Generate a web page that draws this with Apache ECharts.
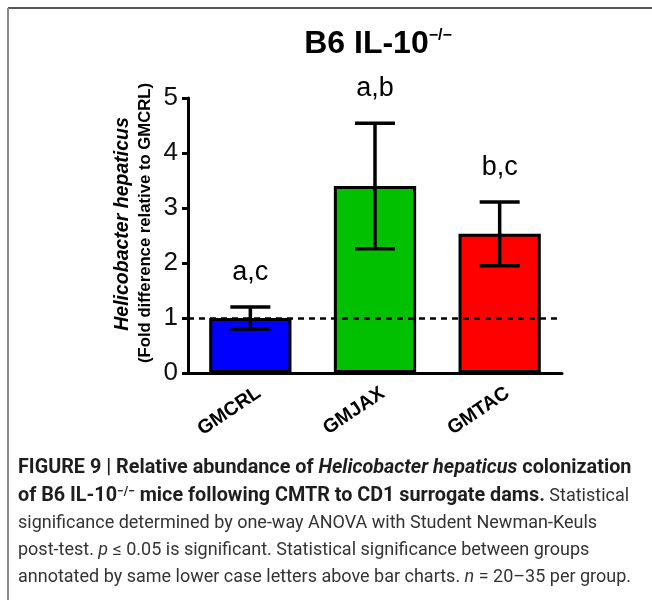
<!DOCTYPE html>
<html>
<head>
<meta charset="utf-8">
<script src="https://cdn.jsdelivr.net/npm/echarts@6/dist/echarts.min.js"></script>
<style>
  html, body { margin: 0; padding: 0; background: #fff; }
  #chart { width: 652px; height: 600px; }
</style>
</head>
<body>
<div id="chart"></div>
<script>
// Groups, fold-difference means and error half-widths
const categories = ['GMCRL', 'GMJAX', 'GMTAC'];
const foldMeans = [1.0, 3.40, 2.53];
const foldErrors = [0.20, 1.14, 0.58];
const groupLetters = ['a,c', 'a,b', 'b,c'];
const referenceLevel = 1;
const yTickValues = [0, 1, 2, 3, 4, 5];

const barColors = ['#0000ff', '#00c000', '#ff0000'];
const SANS = '"Liberation Sans", Arial, sans-serif';
const CAP = 'Roboto, "Liberation Sans", sans-serif';

const chart = echarts.init(document.getElementById('chart'), null, { renderer: 'canvas' });

const errorData = categories.map((c, i) => [i, foldMeans[i] - foldErrors[i], foldMeans[i] + foldErrors[i]]);

// Error bar with caps, significance letters above it and the slanted group name below the axis
function renderErrorBar(params, api) {
  const i = api.value(0);
  const lo = api.coord([i, api.value(1)]);
  const hi = api.coord([i, api.value(2)]);
  const base = api.coord([i, 0]);
  const half = 20;
  const st = { stroke: '#000', lineWidth: 3.5 };
  return {
    type: 'group',
    children: [
      { type: 'line', shape: { x1: hi[0], y1: hi[1], x2: lo[0], y2: lo[1] }, style: st },
      { type: 'line', shape: { x1: hi[0] - half, y1: hi[1], x2: hi[0] + half, y2: hi[1] }, style: st },
      { type: 'line', shape: { x1: lo[0] - half, y1: lo[1], x2: lo[0] + half, y2: lo[1] }, style: st },
      {
        type: 'text',
        style: {
          text: groupLetters[params.dataIndex],
          x: hi[0], y: hi[1] - 21,
          align: 'center', verticalAlign: 'bottom',
          fontSize: 27, fontFamily: SANS, fill: '#000'
        }
      },
      {
        type: 'text',
        x: base[0] - 21, y: base[1] + 38,
        rotation: 34 * Math.PI / 180,
        style: {
          text: categories[params.dataIndex],
          align: 'center', verticalAlign: 'middle',
          fontSize: 19.5, fontWeight: 'bold', fontFamily: SANS, fill: '#000'
        }
      }
    ]
  };
}

// Caption lines (rich text segments)
const captionRich = {
  b: { fontFamily: CAP, fontSize: 19.8, fontWeight: 'bold', fill: '#1e1e1e' },
  bi: { fontFamily: CAP, fontSize: 19.8, fontWeight: 'bold', fontStyle: 'italic', fill: '#1e1e1e' },
  bs: { fontFamily: CAP, fontSize: 12, fontWeight: 'bold', fill: '#1e1e1e', verticalAlign: 'top', lineHeight: 12 },
  r: { fontFamily: CAP, fontSize: 18, fill: '#333' },
  ri: { fontFamily: CAP, fontSize: 18, fontStyle: 'italic', fill: '#333' }
};
const captionLines = [
  '{b|FIGURE 9 | Relative abundance of }{bi|Helicobacter hepaticus}{b| colonization}',
  '{b|of B6 IL-10}{bs|−/−}{b| mice following CMTR to CD1 surrogate dams.}{r| Statistical}',
  '{r|significance determined by one-way ANOVA with Student Newman-Keuls}',
  '{r|post-test. }{ri|p}{r| ≤ 0.05 is significant. Statistical significance between groups}',
  '{r|annotated by same lower case letters above bar charts. }{ri|n}{r| = 20–35 per group.}'
];
const captionY = [468, 496, 523, 550, 577];

const graphics = [
  // frame
  { type: 'line', shape: { x1: 8, y1: 8, x2: 652, y2: 8 }, style: { stroke: '#555', lineWidth: 2 } },
  { type: 'line', shape: { x1: 8, y1: 8, x2: 8, y2: 600 }, style: { stroke: '#888', lineWidth: 2 } },
  // title
  {
    type: 'text', x: 378, y: 44,
    style: {
      text: '{m|B6 IL-10}{s|−/−}',
      align: 'center', verticalAlign: 'middle',
      rich: {
        m: { fontFamily: SANS, fontSize: 32, fontWeight: 'bold', fill: '#000' },
        s: { fontFamily: SANS, fontSize: 16, fontWeight: 'bold', fill: '#000', verticalAlign: 'top', lineHeight: 16 }
      }
    }
  },
  // y axis title, two lines
  {
    type: 'text', x: 123, y: 224, rotation: Math.PI / 2,
    style: {
      text: 'Helicobacter hepaticus', align: 'center', verticalAlign: 'middle',
      fontFamily: SANS, fontSize: 19.5, fontWeight: 'bold', fontStyle: 'italic', fill: '#000'
    }
  },
  {
    type: 'text', x: 145, y: 223, rotation: Math.PI / 2,
    style: {
      text: '(Fold difference relative to GMCRL)', align: 'center', verticalAlign: 'middle',
      fontFamily: SANS, fontSize: 16.7, fontWeight: 'bold', fill: '#000'
    }
  }
].concat(captionLines.map((t, k) => ({
  type: 'text', x: 18, y: captionY[k],
  style: { text: t, align: 'left', verticalAlign: 'middle', rich: captionRich }
})));

const option = {
  animation: false,
  backgroundColor: '#fff',
  grid: { left: 188, right: 90, top: 98, bottom: 227, containLabel: false },
  xAxis: {
    type: 'category',
    data: categories,
    axisLine: { lineStyle: { color: '#000', width: 3 } },
    axisTick: { alignWithLabel: true, length: 7, lineStyle: { color: '#000', width: 3 } },
    axisLabel: { show: false }
  },
  yAxis: {
    type: 'value',
    min: yTickValues[0],
    max: yTickValues[yTickValues.length - 1],
    interval: yTickValues[1] - yTickValues[0],
    axisLine: { show: true, lineStyle: { color: '#000', width: 3 } },
    axisTick: { show: true, length: 6, lineStyle: { color: '#000', width: 3 } },
    axisLabel: { margin: 10, color: '#111', fontFamily: SANS, fontSize: 26 },
    splitLine: { show: false }
  },
  series: [
    {
      type: 'line', data: [], z: 1, silent: true,
      markLine: {
        silent: true, symbol: 'none', label: { show: false },
        lineStyle: { color: '#000', type: [6, 5], width: 2.5 },
        data: [{ yAxis: referenceLevel }]
      }
    },
    {
      type: 'bar', z: 2,
      data: foldMeans.map((v, i) => ({ value: v, itemStyle: { color: barColors[i] } })),
      barWidth: '66%',
      itemStyle: { borderColor: '#000', borderWidth: 3 }
    },
    {
      type: 'custom', z: 3,
      renderItem: renderErrorBar,
      data: errorData
    }
  ],
  graphic: graphics
};

chart.setOption(option);
</script>
</body>
</html>
